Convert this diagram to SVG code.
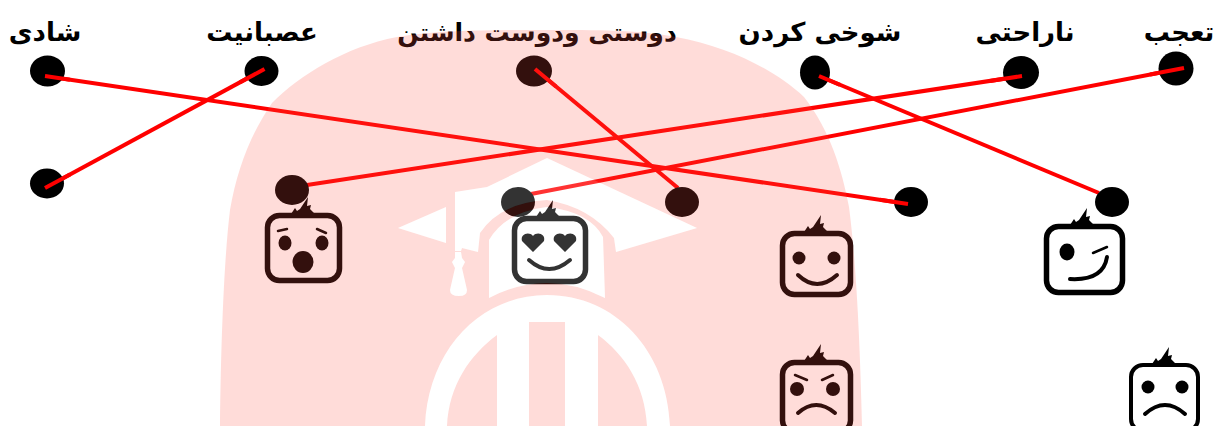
<svg xmlns="http://www.w3.org/2000/svg" width="1220" height="426" viewBox="0 0 1220 426">
<style>
.lbl{font-family:"DejaVu Sans",sans-serif;font-weight:bold;font-size:26px;fill:#000;text-anchor:middle}
.dot{fill:#000}
.c{stroke:#f00;stroke-width:4;fill:none}
.f{fill:none;stroke:#000;stroke-width:5.5;stroke-linecap:round}
.m{fill:none;stroke:#000;stroke-width:4;stroke-linecap:round}
.t{fill:none;stroke:#000;stroke-width:2.5;stroke-linecap:round}
.k{fill:#000}
</style>
<defs>
<path id="hair" d="M-12 1L-8-5-6-2-3-4 5-16 4-7 8-8 7-4 12 1Z"/>
<path id="heart" d="M0 9L-11-2C-13-9-4-12 0-7 4-12 13-9 11-2Z"/>
<filter id="soft" x="-10%" y="-10%" width="120%" height="120%"><feGaussianBlur stdDeviation="0.45"/></filter>
</defs>
<rect width="1220" height="426" fill="#fff"/>
<g id="labels">
<text class="lbl" x="45" y="41" direction="rtl">شادی</text>
<text class="lbl" x="262" y="41" direction="rtl">عصبانیت</text>
<text class="lbl" x="537" y="41" direction="rtl" style="font-size:25px">دوستی ودوست داشتن</text>
<text class="lbl" x="820" y="41" direction="rtl">شوخی کردن</text>
<text class="lbl" x="1025" y="41" direction="rtl">ناراحتی</text>
<text class="lbl" x="1179" y="41" direction="rtl">تعجب</text>
</g>
<g id="face-surprised" filter="url(#soft)">
<rect class="f" x="267.500" y="215.500" width="72" height="65" rx="12"/>
<use href="#hair" x="303" y="213"/>
<ellipse class="k" cx="285" cy="243" rx="6.500" ry="7.500"/><ellipse class="k" cx="322" cy="243" rx="6.500" ry="7.500"/>
<ellipse class="k" cx="303" cy="262" rx="10.500" ry="11"/>
<path class="t" d="M278 231l9-2M317 229l9 4"/>
</g>
<g id="face-hearts" filter="url(#soft)">
<rect class="f" x="514.500" y="218.500" width="71" height="63" rx="12"/>
<use href="#hair" x="548" y="216"/>
<use href="#heart" x="533" y="243"/><use href="#heart" x="565" y="243"/>
<path class="m" d="M529 260q20 18 41 0"/>
</g>
<g id="face-happy" filter="url(#soft)">
<rect class="f" x="782.500" y="233.500" width="68" height="61" rx="12"/>
<use href="#hair" x="816" y="231"/>
<circle class="k" cx="799" cy="258" r="6.500"/><circle class="k" cx="834" cy="258" r="6.500"/>
<path class="m" d="M798 275q19 18 39 0"/>
</g>
<g id="face-wink" filter="url(#soft)">
<rect class="f" x="1046.500" y="226.500" width="76" height="66" rx="12"/>
<use href="#hair" x="1082" y="224"/>
<ellipse class="k" cx="1067" cy="252" rx="7.500" ry="8.500"/>
<path class="t" d="M1093 253l14-6"/>
<path class="m" d="M1070 279c18 1 34-3 37-22"/>
</g>
<g id="face-angry" filter="url(#soft)">
<rect class="f" x="782.500" y="362.500" width="68" height="70" rx="12"/>
<use href="#hair" x="816" y="360"/>
<circle class="k" cx="797" cy="389" r="7"/><circle class="k" cx="833" cy="389" r="7"/>
<path class="t" d="M795 375l12 5M833 375l-11 5"/>
<path class="m" d="M798 413q18-16 37 0"/>
</g>
<g id="face-sad" filter="url(#soft)">
<rect class="m" x="1131" y="365" width="67" height="66" rx="12"/>
<use href="#hair" x="1164" y="363"/>
<circle class="k" cx="1148" cy="387" r="6.500"/><circle class="k" cx="1182" cy="387" r="6.500"/>
<path class="m" d="M1145 414q20-18 40 0"/>
</g>
<g id="connectors">
<line class="c" x1="45" y1="76" x2="908" y2="204"/>
<line class="c" x1="264.500" y1="69" x2="45" y2="188"/>
<line class="c" x1="535" y1="69" x2="678" y2="188"/>
<line class="c" x1="819" y1="76" x2="1099" y2="193"/>
<line class="c" x1="1022" y1="76" x2="307" y2="185"/>
<line class="c" x1="1184" y1="68" x2="531" y2="194"/>
</g>
<g id="dots">
<ellipse id="n1" class="dot" cx="47.500" cy="71" rx="17.500" ry="15.500"/>
<ellipse id="n2" class="dot" cx="261.500" cy="71" rx="17" ry="15"/>
<ellipse id="n3" class="dot" cx="534" cy="71" rx="18" ry="15.500"/>
<ellipse id="n4" class="dot" cx="815" cy="72.500" rx="15" ry="17"/>
<ellipse id="n5" class="dot" cx="1021" cy="72.500" rx="18" ry="16.500"/>
<ellipse id="n6" class="dot" cx="1176" cy="68.500" rx="17.500" ry="17"/>
<ellipse id="n7" class="dot" cx="47" cy="183.500" rx="17" ry="15"/>
<ellipse id="n8" class="dot" cx="292" cy="190" rx="17" ry="15"/>
<ellipse id="n9" class="dot" cx="518" cy="202" rx="17" ry="15"/>
<ellipse id="n10" class="dot" cx="682" cy="202" rx="17" ry="15"/>
<ellipse id="n11" class="dot" cx="911" cy="202" rx="17" ry="15"/>
<ellipse id="n12" class="dot" cx="1112" cy="202" rx="17" ry="15"/>
</g>
<g id="connectors-over-dots">
<line class="c" x1="45" y1="76" x2="70" y2="79.700"/>
<line class="c" x1="908" y1="204" x2="880" y2="199.850"/>
<line class="c" x1="264.500" y1="69" x2="240" y2="82.300"/>
<line class="c" x1="45" y1="188" x2="70" y2="174.400"/>
<line class="c" x1="535" y1="69" x2="556" y2="86.500"/>
<line class="c" x1="819" y1="76" x2="840" y2="84.800"/>
<line class="c" x1="1022" y1="76" x2="990" y2="80.900"/>
<line class="c" x1="1184" y1="68" x2="1150" y2="74.500"/>
</g>
<g id="watermark">
<path id="wm-pink" opacity=".2" fill="#ff5040" fill-rule="evenodd" d="M220 426C221 340 224 260 230 210C237 170 250 135 272 103C300 75 345 47 397 37C440 30 490 30 540 30C600 30 640 30 676 37C730 47 775 70 804 97C830 130 842 170 849 207C856 260 860 340 862 426Z
M547 158L697 228 616 252 614 238Q590 207 547 200 500 203 480 233L478 252 462 248 461 251H455V192L487 187Z
M398 228L446 207V243Z
M455 252H461L462 258 465 262 462 268 467 290Q467 296 459 296 450 296 450 290L455 268 452 262 455 258Z
M489 298V240Q505 212 547 207 590 212 603 237L605 298Q547 268 489 298Z
M425 426C428 350 480 295 547 295 615 295 667 350 670 426H647C645 385 625 355 598 335V426H565V322H529V426H497V335C470 355 449 385 447 426Z"/>
<path id="wm-white" opacity=".2" fill="#fff" d="M547 158L697 228 616 252 614 238Q590 207 547 200 500 203 480 233L478 252 462 248 461 251H455V192L487 187Z
M398 228L446 207V243Z
M455 252H461L462 258 465 262 462 268 467 290Q467 296 459 296 450 296 450 290L455 268 452 262 455 258Z
M489 298V240Q505 212 547 207 590 212 603 237L605 298Q547 268 489 298Z
M425 426C428 350 480 295 547 295 615 295 667 350 670 426H647C645 385 625 355 598 335V426H565V322H529V426H497V335C470 355 449 385 447 426Z"/>
</g>
</svg>
